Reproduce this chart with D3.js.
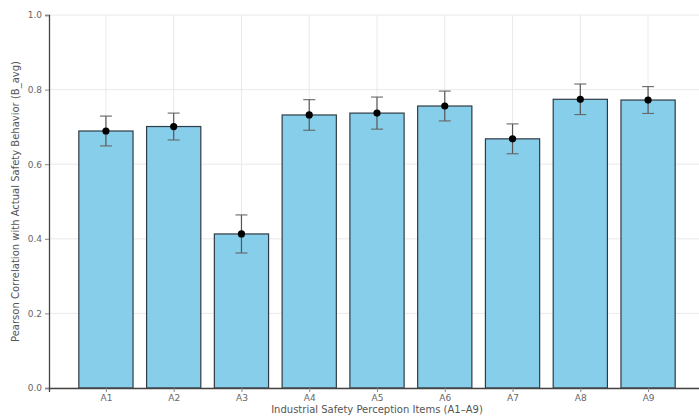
<!DOCTYPE html>
<html>
<head>
<meta charset="utf-8">
<script src="https://cdn.jsdelivr.net/npm/d3@7"></script>
<style>
  body { margin: 0; background: #fff; }
  text { font-family: "DejaVu Sans", sans-serif; }
</style>
</head>
<body>
<div id="chart"></div>
<script>
// correlation of each perception item with B_avg
var items = ["A1", "A2", "A3", "A4", "A5", "A6", "A7", "A8", "A9"];
var corr = [0.689, 0.701, 0.413, 0.732, 0.737, 0.756, 0.668, 0.774, 0.772];
var errs = [0.040, 0.036, 0.051, 0.041, 0.043, 0.040, 0.040, 0.041, 0.036];
var yTicks = [0.0, 0.2, 0.4, 0.6, 0.8, 1.0];

var W = 699, H = 420;
var margin = { top: 15, right: -6, bottom: 32, left: 49 },
  width = W - margin.left - margin.right,
  height = H - margin.top - margin.bottom;

var svg = d3.select("#chart")
  .append("svg")
  .attr("width", W)
  .attr("height", H)
  .style("overflow", "hidden");

var g = svg.append("g")
  .attr("transform", "translate(" + margin.left + "," + margin.top + ")");

// matplotlib-like x: index scale with 0.05 margins around bars
var x = d3.scaleLinear()
  .domain([-0.84, items.length - 1 + 0.84])
  .range([0, width]);
var step = x(1) - x(0);
var barW = step * 0.8;

var y = d3.scaleLinear()
  .domain([0, 1])
  .range([height, 0]);

// grid
g.append("g")
  .selectAll("line.hg")
  .data(yTicks)
  .join("line")
  .attr("x1", 0).attr("x2", width)
  .attr("y1", d => y(d)).attr("y2", d => y(d))
  .attr("stroke", "#e4e4e4")
  .attr("stroke-width", 0.8);

g.append("g")
  .selectAll("line.vg")
  .data(items)
  .join("line")
  .attr("x1", (d, i) => x(i)).attr("x2", (d, i) => x(i))
  .attr("y1", 0).attr("y2", height)
  .attr("stroke", "#e4e4e4")
  .attr("stroke-width", 0.8);

// bars
g.selectAll("rect.bar")
  .data(corr)
  .join("rect")
  .attr("x", (d, i) => x(i) - barW / 2)
  .attr("y", d => y(d))
  .attr("width", barW)
  .attr("height", d => height - y(d))
  .attr("fill", "#87CEEB")
  .attr("stroke", "#2f3b44")
  .attr("stroke-width", 1.2);

// error bars
var eb = g.append("g");
corr.forEach(function (v, i) {
  var cx = x(i);
  var lo = y(v - errs[i]), hi = y(v + errs[i]);
  eb.append("line")
    .attr("x1", cx).attr("x2", cx)
    .attr("y1", lo).attr("y2", hi)
    .attr("stroke", "#555").attr("stroke-width", 1.2);
  [lo, hi].forEach(function (yy) {
    eb.append("line")
      .attr("x1", cx - 6).attr("x2", cx + 6)
      .attr("y1", yy).attr("y2", yy)
      .attr("stroke", "#666").attr("stroke-width", 1.1);
  });
  eb.append("circle")
    .attr("cx", cx).attr("cy", y(v))
    .attr("r", 3.6)
    .attr("fill", "#000");
});

// axes
var yAxis = g.append("g")
  .call(d3.axisLeft(y).tickValues(yTicks).tickFormat(d3.format(".1f")).tickSize(4).tickPadding(3));
var xAxis = g.append("g")
  .attr("transform", "translate(0," + height + ")")
  .call(d3.axisBottom(x).tickValues(d3.range(items.length)).tickFormat(i => items[i]).tickSize(4).tickPadding(3));

[yAxis, xAxis].forEach(function (a) {
  a.select(".domain").attr("stroke", "#444").attr("stroke-width", 1.3);
  a.selectAll(".tick line").attr("stroke", "#888");
  a.selectAll(".tick text").attr("fill", "#666").style("font-size", "9px");
});

// axis titles
svg.append("text")
  .attr("x", margin.left + x(4))
  .attr("y", 413)
  .attr("text-anchor", "middle")
  .attr("fill", "#555")
  .style("font-size", "10px")
  .text("Industrial Safety Perception Items (A1\u2013A9)");

svg.append("text")
  .attr("transform", "translate(19," + (margin.top + height / 2) + ") rotate(-90)")
  .attr("text-anchor", "middle")
  .attr("fill", "#555")
  .style("font-size", "10px")
  .text("Pearson Correlation with Actual Safety Behavior (B_avg)");
</script>
</body>
</html>
